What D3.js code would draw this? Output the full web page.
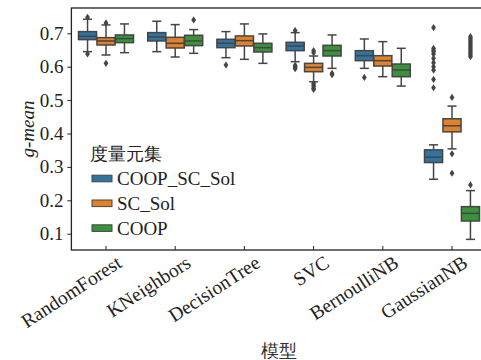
<!DOCTYPE html>
<html>
<head>
<meta charset="utf-8">
<script src="https://cdn.jsdelivr.net/npm/d3@7"></script>
<style>
  body { margin: 0; background: #fff; }
  text { font-family: "Liberation Serif", "Times New Roman", serif; }
</style>
</head>
<body>
<div id="chart"></div>
<script>
const width = 481;
const height = 360;

// categories
const models = ["RandomForest", "KNeighbors", "DecisionTree", "SVC", "BernoulliNB", "GaussianNB"];
const sets = ["COOP_SC_Sol", "SC_Sol", "COOP"];
const yTicks = [0.1, 0.2, 0.3, 0.4, 0.5, 0.6, 0.7];

// box stats per model: [lower whisker, q1, median, q3, upper whisker]
const coopScSolStats = [
  [0.645, 0.681, 0.691, 0.705, 0.742],
  [0.645, 0.677, 0.689, 0.702, 0.736],
  [0.627, 0.657, 0.670, 0.682, 0.705],
  [0.615, 0.648, 0.662, 0.673, 0.702],
  [0.595, 0.618, 0.633, 0.648, 0.683],
  [0.263, 0.313, 0.329, 0.351, 0.366]
];
const scSolStats = [
  [0.635, 0.665, 0.677, 0.687, 0.725],
  [0.629, 0.656, 0.670, 0.688, 0.726],
  [0.622, 0.662, 0.678, 0.692, 0.728],
  [0.555, 0.585, 0.598, 0.610, 0.632],
  [0.570, 0.602, 0.618, 0.633, 0.675],
  [0.354, 0.405, 0.423, 0.444, 0.482]
];
const coopStats = [
  [0.642, 0.672, 0.684, 0.695, 0.728],
  [0.640, 0.663, 0.677, 0.694, 0.711],
  [0.610, 0.644, 0.657, 0.670, 0.698],
  [0.595, 0.632, 0.648, 0.664, 0.695],
  [0.542, 0.570, 0.590, 0.608, 0.655],
  [0.083, 0.138, 0.161, 0.181, 0.229]
];

// outliers per model
const coopScSolOut = [
  [0.748, 0.638],
  [],
  [0.605],
  [0.708, 0.604, 0.600, 0.597, 0.594],
  [0.568],
  [0.717, 0.655, 0.650, 0.645, 0.638, 0.625, 0.612, 0.600, 0.590, 0.562, 0.537]
];
const scSolOut = [
  [0.731, 0.610],
  [],
  [],
  [0.648, 0.642, 0.550, 0.545, 0.540, 0.535, 0.532],
  [],
  [0.508, 0.339, 0.281]
];
const coopOut = [
  [],
  [0.740],
  [],
  [0.580, 0.576],
  [],
  [0.246, 0.690, 0.685, 0.680, 0.675, 0.670, 0.665, 0.660, 0.655, 0.650, 0.645, 0.640, 0.635, 0.630]
];

const colors = ["#3274a1", "#e1812c", "#3a923a"];
const edge = "#454545";

const statsBySet = [coopScSolStats, scSolStats, coopStats];
const outBySet = [coopScSolOut, scSolOut, coopOut];

const svg = d3.select("#chart")
  .append("svg")
  .attr("width", width)
  .attr("height", height);

svg.append("rect").attr("width", width).attr("height", height).attr("fill", "#fff");

const plotLeft = 71.4, plotRight = 486.6, plotTop = 8, plotBottom = 250;

const x = d3.scaleBand().domain(models).range([plotLeft, plotRight]);
const xSub = d3.scaleBand().domain(sets)
  .range([-0.4 * x.bandwidth(), 0.4 * x.bandwidth()]);
const y = d3.scaleLinear().domain([0.0512, 0.7757]).range([plotBottom, plotTop]);

const boxW = xSub.bandwidth() * 0.98;

// boxes
sets.forEach((s, si) => {
  const g = svg.append("g").attr("class", "set-" + si);
  models.forEach((m, mi) => {
    const st = statsBySet[si][mi];
    const cx = x(m) + x.bandwidth() / 2 + xSub(s) + xSub.bandwidth() / 2;

    // whiskers
    g.append("line")
      .attr("x1", cx).attr("x2", cx)
      .attr("y1", y(st[0])).attr("y2", y(st[1]))
      .attr("stroke", edge).attr("stroke-width", 1.5);
    g.append("line")
      .attr("x1", cx).attr("x2", cx)
      .attr("y1", y(st[3])).attr("y2", y(st[4]))
      .attr("stroke", edge).attr("stroke-width", 1.5);
    // caps
    [st[0], st[4]].forEach(v => {
      g.append("line")
        .attr("x1", cx - boxW / 4).attr("x2", cx + boxW / 4)
        .attr("y1", y(v)).attr("y2", y(v))
        .attr("stroke", edge).attr("stroke-width", 1.5);
    });
    // box
    g.append("rect")
      .attr("x", cx - boxW / 2)
      .attr("y", y(st[3]))
      .attr("width", boxW)
      .attr("height", y(st[1]) - y(st[3]))
      .attr("fill", colors[si])
      .attr("stroke", edge).attr("stroke-width", 1.5);
    // median
    g.append("line")
      .attr("x1", cx - boxW / 2).attr("x2", cx + boxW / 2)
      .attr("y1", y(st[2])).attr("y2", y(st[2]))
      .attr("stroke", edge).attr("stroke-width", 1.5);

    // outliers (diamonds)
    g.selectAll(null)
      .data(outBySet[si][mi])
      .enter()
      .append("path")
      .attr("d", "M0,-3.6L2.4,0L0,3.6L-2.4,0Z")
      .attr("transform", d => "translate(" + cx + "," + y(d) + ")")
      .attr("fill", edge);
  });
});

// y axis
const yAxis = d3.axisLeft(y)
  .tickValues(yTicks)
  .tickFormat(d3.format(".1f"))
  .tickSize(4)
  .tickPadding(4);

svg.append("g")
  .attr("transform", "translate(" + plotLeft + ",0)")
  .call(yAxis)
  .call(g => g.select(".domain").remove())
  .call(g => g.selectAll("line").attr("stroke", "#222").attr("stroke-width", 1))
  .call(g => g.selectAll("text")
    .attr("font-size", 19)
    .attr("font-family", "Liberation Serif")
    .attr("fill", "#222"));

// x axis ticks (inward)
const xAxis = d3.axisBottom(x).tickSize(-4).tickSizeOuter(0).tickFormat("");
svg.append("g")
  .attr("transform", "translate(0," + plotBottom + ")")
  .call(xAxis)
  .call(g => g.select(".domain").remove())
  .call(g => g.selectAll("line").attr("stroke", "#222").attr("stroke-width", 1));

// x tick labels, rotated
svg.append("g")
  .selectAll("text")
  .data(models)
  .enter()
  .append("text")
  .attr("transform", d => "translate(" + (x(d) + x.bandwidth() / 2 + 17) + "," + 266 + ") rotate(-33)")
  .attr("text-anchor", "end")
  .attr("font-size", 19.5)
  .attr("fill", "#222")
  .text(d => d);

// frame
svg.append("rect")
  .attr("x", plotLeft).attr("y", plotTop)
  .attr("width", plotRight - plotLeft).attr("height", plotBottom - plotTop)
  .attr("fill", "none")
  .attr("stroke", "#222")
  .attr("stroke-width", 1.3);

// axis titles
svg.append("text")
  .attr("transform", "translate(34," + (plotTop + plotBottom) / 2 + ") rotate(-90)")
  .attr("text-anchor", "middle")
  .attr("font-size", 19)
  .attr("font-style", "italic")
  .attr("fill", "#222")
  .text("g-mean");

svg.append("text")
  .attr("x", (plotLeft + plotRight) / 2)
  .attr("y", 357)
  .attr("text-anchor", "middle")
  .attr("font-size", 18)
  .attr("font-family", "Noto Sans CJK SC")
  .attr("fill", "#333")
  .text("模型");

// legend
const legend = svg.append("g");
legend.append("text")
  .attr("x", 90).attr("y", 160)
  .attr("font-size", 18)
  .attr("font-family", "Noto Sans CJK SC")
  .attr("fill", "#222")
  .text("度量元集");

sets.forEach((s, i) => {
  const ly = 178.5 + i * 24.8;
  legend.append("rect")
    .attr("x", 92).attr("y", ly - 3.3)
    .attr("width", 20).attr("height", 6.6)
    .attr("fill", colors[i])
    .attr("stroke", edge).attr("stroke-width", 1);
  legend.append("text")
    .attr("x", 117).attr("y", ly + 6.5)
    .attr("font-size", 19)
    .attr("fill", "#222")
    .text(s);
});
</script>
</body>
</html>
